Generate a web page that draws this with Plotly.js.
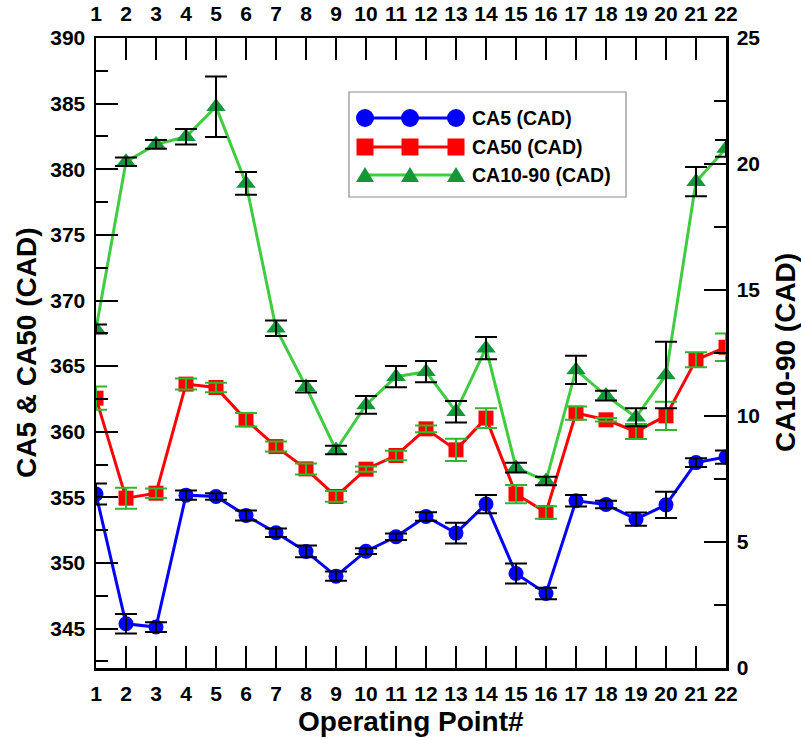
<!DOCTYPE html>
<html>
<head>
<meta charset="utf-8">
<script src="https://cdn.plot.ly/plotly-3.0.1.min.js"></script>
<style>
  html, body { margin: 0; padding: 0; background: #ffffff; }
  #chart { width: 801px; height: 740px; }
</style>
</head>
<body>
<div id="chart"></div>
<script>
// Operating points along the x axis
const ops = [1, 2, 3, 4, 5, 6, 7, 8, 9, 10, 11, 12, 13, 14, 15, 16, 17, 18, 19, 20, 21, 22];

// CA5 (CAD), left axis
const ca5 = [355.25, 345.37, 345.12, 355.17, 355.07, 353.62, 352.30, 350.88, 349.00, 350.90, 352.00,
             353.54, 352.28, 354.49, 349.20, 347.68, 354.74, 354.46, 353.34, 354.43, 357.65, 358.07];
const ca5Err = [0.80, 0.75, 0.37, 0.36, 0.25, 0.38, 0.32, 0.45, 0.36, 0.22, 0.25,
                0.32, 0.79, 0.69, 0.76, 0.44, 0.44, 0.29, 0.51, 1.00, 0.34, 0.51];

// CA50 (CAD), left axis
const ca50 = [362.56, 354.94, 355.32, 363.63, 363.37, 360.91, 358.87, 357.17, 355.07, 357.15, 358.19,
              360.22, 358.62, 361.04, 355.25, 353.85, 361.42, 360.91, 360.02, 361.21, 365.48, 366.44];
const ca50Err = [0.89, 0.80, 0.36, 0.42, 0.36, 0.51, 0.38, 0.42, 0.41, 0.20, 0.36,
                 0.25, 0.85, 0.76, 0.70, 0.47, 0.51, 0.13, 0.57, 1.08, 0.57, 1.05];

// CA10-90 (CAD), right axis
const ca1090 = [13.45, 20.09, 20.78, 21.08, 22.27, 19.23, 13.48, 11.16, 8.65, 10.44, 11.56,
                11.76, 10.17, 12.69, 7.95, 7.42, 11.83, 10.81, 9.95, 11.63, 19.30, 20.62];
const ca1090Err = [0.18, 0.17, 0.17, 0.31, 1.20, 0.45, 0.31, 0.23, 0.17, 0.35, 0.42,
                   0.42, 0.43, 0.44, 0.19, 0.17, 0.56, 0.19, 0.36, 1.32, 0.58, 0.33];

const seriesNames = ['CA5 (CAD)', 'CA50 (CAD)', 'CA10-90 (CAD)'];
const xTitle = 'Operating Point#';
const yLeftTitle = 'CA5 & CA50 (CAD)';
const yRightTitle = 'CA10-90 (CAD)';

// Styling
const FONT = 'Liberation Sans, Arial, Helvetica, sans-serif';
const BLUE = '#0000ff';
const RED = '#ff0000';
const GREEN_LINE = '#40cc40';
const GREEN_MARK = '#14963a';
const GREEN_ERR = '#2db82d';
const BLACK = '#000000';

const W = 801, H = 740;
const M = { l: 96, r: 75, t: 38, b: 72 };
const PW = W - M.l - M.r, PH = H - M.t - M.b;

// Each series: a line+marker trace, then its error bars drawn on top of the markers
function series(y, err, xa, ya, lineColor, markColor, symbol, size, errColor, name) {
  return [
    {
      x: ops, y: y, name: name, type: 'scatter', mode: 'lines+markers',
      xaxis: xa, yaxis: ya,
      line: { color: lineColor, width: 3 },
      marker: { color: markColor, symbol: symbol, size: size },
      showlegend: false
    },
    {
      x: ops, y: y, name: name + ' error', type: 'scatter', mode: 'markers',
      xaxis: xa, yaxis: ya,
      marker: { color: 'rgba(0,0,0,0)', size: 1 },
      error_y: { type: 'data', array: err, visible: true, color: errColor, thickness: 2, width: 11 },
      showlegend: false
    }
  ];
}

const traces = [].concat(
  series(ca5, ca5Err, 'x', 'y', BLUE, BLUE, 'circle', 15, BLACK, seriesNames[0]),
  series(ca50, ca50Err, 'x', 'y', RED, RED, 'square', 15, GREEN_ERR, seriesNames[1]),
  series(ca1090, ca1090Err, 'x2', 'y2', GREEN_LINE, GREEN_MARK, 'triangle-up', 17, BLACK, seriesNames[2])
);

const tickFont = { family: FONT, size: 21, color: BLACK, weight: 'bold' };
const titleFont = { family: FONT, size: 28, color: BLACK, weight: 'bold' };

const axisCommon = {
  showline: true, linecolor: BLACK, linewidth: 2.5,
  ticks: 'inside', tickcolor: BLACK, tickwidth: 2, ticklen: 22,
  showgrid: false, zeroline: false, tickfont: tickFont, fixedrange: true
};

// pixel helpers for legend decoration
const px = v => (v - M.l) / PW;
const py = v => (M.t + PH - v) / PH;

const shapes = [];
const annotations = [];

// legend box
shapes.push({
  type: 'rect', xref: 'paper', yref: 'paper',
  x0: px(349), x1: px(626), y0: py(197), y1: py(92),
  line: { color: '#8c8c8c', width: 1.2 }, fillcolor: '#ffffff', layer: 'above'
});

const legendRows = [118, 147, 175];
const legendX = [365, 410, 456];
const legendStyle = [
  { line: BLUE, mark: BLUE, kind: 'circle' },
  { line: RED, mark: RED, kind: 'square' },
  { line: GREEN_LINE, mark: GREEN_MARK, kind: 'triangle' }
];
legendRows.forEach((ry, i) => {
  const st = legendStyle[i];
  shapes.push({
    type: 'line', xref: 'paper', yref: 'paper',
    x0: px(legendX[0]), x1: px(legendX[2]), y0: py(ry), y1: py(ry),
    line: { color: st.line, width: 3 }, layer: 'above'
  });
  legendX.forEach(cx => {
    const base = {
      xref: 'paper', yref: 'paper', xsizemode: 'pixel', ysizemode: 'pixel',
      xanchor: px(cx), yanchor: py(ry), fillcolor: st.mark,
      line: { color: st.mark, width: 0 }, layer: 'above'
    };
    if (st.kind === 'circle') {
      shapes.push(Object.assign({ type: 'circle', x0: -9, x1: 9, y0: -9, y1: 9 }, base));
    } else if (st.kind === 'square') {
      shapes.push(Object.assign({ type: 'rect', x0: -8.5, x1: 8.5, y0: -8.5, y1: 8.5 }, base));
    } else {
      shapes.push(Object.assign({ type: 'path', path: 'M-9,-7 L9,-7 L0,8 Z' }, base));
    }
  });
  annotations.push({
    xref: 'paper', yref: 'paper', x: px(470), y: py(ry),
    xanchor: 'left', yanchor: 'middle', showarrow: false,
    text: seriesNames[i], font: { family: FONT, size: 19.5, color: BLACK, weight: 'bold' }
  });
});

// axis titles
annotations.push({
  xref: 'paper', yref: 'paper', x: 0.5, y: 0, yshift: -53,
  xanchor: 'center', yanchor: 'middle', showarrow: false,
  text: xTitle, font: titleFont
});
annotations.push({
  xref: 'paper', yref: 'paper', x: 0, y: 0.5, xshift: -70,
  xanchor: 'center', yanchor: 'middle', showarrow: false, textangle: -90,
  text: yLeftTitle, font: titleFont
});
annotations.push({
  xref: 'paper', yref: 'paper', x: 1, y: 0.5, xshift: 59,
  xanchor: 'center', yanchor: 'middle', showarrow: false, textangle: -90,
  text: yRightTitle, font: titleFont
});

const layout = {
  width: W, height: H,
  margin: M,
  paper_bgcolor: '#ffffff', plot_bgcolor: 'rgba(0,0,0,0)',
  showlegend: false,
  font: { family: FONT, color: BLACK },
  xaxis: Object.assign({}, axisCommon, {
    range: [1, 22], tickmode: 'array', tickvals: ops, ticktext: ops.map(String),
    side: 'bottom', anchor: 'y', ticklabelstandoff: 5
  }),
  xaxis2: Object.assign({}, axisCommon, {
    range: [1, 22], tickmode: 'array', tickvals: ops, ticktext: ops.map(String),
    side: 'top', overlaying: 'x', anchor: 'y', ticklabelstandoff: 6
  }),
  yaxis: Object.assign({}, axisCommon, {
    range: [342, 390], tick0: 345, dtick: 5, side: 'left', anchor: 'x',
    minor: { ticks: 'inside', ticklen: 12, tickwidth: 2, tickcolor: BLACK, dtick: 2.5, tick0: 345, showgrid: false },
    ticklabelstandoff: 4
  }),
  yaxis2: Object.assign({}, axisCommon, {
    range: [0, 25], tick0: 0, dtick: 5, side: 'right', overlaying: 'y', anchor: 'x',
    minor: { ticks: 'inside', ticklen: 12, tickwidth: 2, tickcolor: BLACK, dtick: 2.5, tick0: 0, showgrid: false },
    ticklabelstandoff: 4
  }),
  shapes: shapes,
  annotations: annotations
};

Plotly.newPlot('chart', traces, layout, { staticPlot: true, displayModeBar: false });
</script>
</body>
</html>
